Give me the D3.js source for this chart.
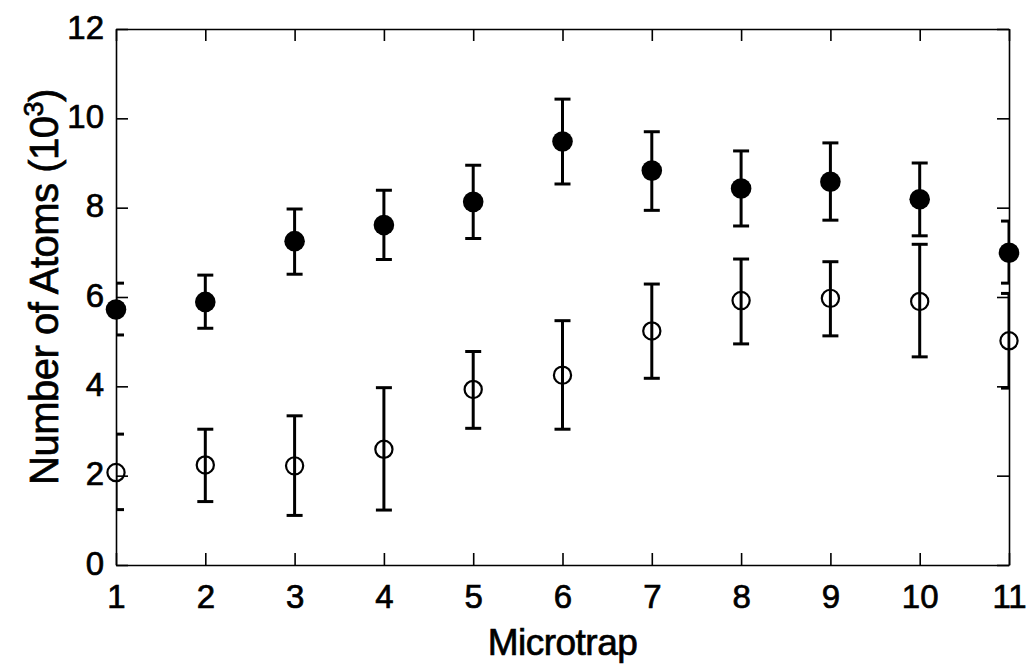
<!DOCTYPE html>
<html>
<head>
<meta charset="utf-8">
<script src="https://cdn.jsdelivr.net/npm/d3@7"></script>
<style>
  html, body { margin: 0; padding: 0; background: #fff; }
  svg { display: block; font-family: "Liberation Sans", Arial, sans-serif; }
  svg text { stroke: #000; stroke-width: 0.7px; }
</style>
</head>
<body>
<svg id="chart" width="1026" height="666"></svg>
<script>
// Microtrap index
const traps = [1, 2, 3, 4, 5, 6, 7, 8, 9, 10, 11];

// Filled markers: mean and error-bar limits (10^3 atoms)
const filledMean  = [5.72, 5.89, 7.25, 7.61, 8.13, 9.48, 8.83, 8.43, 8.58, 8.19, 6.99];
const filledUpper = [6.31, 6.49, 7.97, 8.39, 8.95, 10.43, 9.70, 9.27, 9.45, 9.00, 7.70];
const filledLower = [5.15, 5.30, 6.51, 6.84, 7.31, 8.53, 7.94, 7.59, 7.72, 7.37, 6.31];

// Open markers: mean and error-bar limits (10^3 atoms)
const openMean  = [2.07, 2.24, 2.22, 2.59, 3.93, 4.25, 5.24, 5.92, 5.97, 5.90, 5.02];
const openUpper = [2.93, 3.04, 3.34, 3.97, 4.78, 5.47, 6.29, 6.85, 6.79, 7.18, 6.08];
const openLower = [1.24, 1.42, 1.11, 1.23, 3.06, 3.04, 4.18, 4.95, 5.13, 4.66, 3.96];

const xTicks = [1, 2, 3, 4, 5, 6, 7, 8, 9, 10, 11];
const yTicks = [0, 2, 4, 6, 8, 10, 12];

const svg = d3.select("#chart");
const plotL = 116, plotR = 1009, plotT = 29, plotB = 565;

const x = d3.scaleLinear().domain([1, 11]).range([plotL, plotR]);
const y = d3.scaleLinear().domain([0, 12]).range([plotB, plotT]);

const tickLen = 12;

// Clip region for error bars
svg.append("defs").append("clipPath").attr("id", "plotClip")
  .append("rect").attr("x", plotL).attr("y", plotT)
  .attr("width", plotR - plotL).attr("height", plotB - plotT);

// Axes with inward ticks on all four sides
const axisStyle = g => {
  g.select(".domain").attr("stroke", "#000").attr("stroke-width", 1.6);
  g.selectAll(".tick line").attr("stroke", "#000").attr("stroke-width", 1.6);
};

svg.append("g").attr("transform", `translate(0,${plotB})`)
  .call(d3.axisBottom(x).tickValues(xTicks).tickSizeInner(-tickLen).tickSizeOuter(0).tickPadding(20).tickFormat(d3.format("d")))
  .call(axisStyle)
  .call(g => g.selectAll("text").attr("font-size", 33).attr("fill", "#000").attr("font-family", "Liberation Sans, Arial, sans-serif"));

svg.append("g").attr("transform", `translate(0,${plotT})`)
  .call(d3.axisTop(x).tickValues(xTicks).tickSizeInner(-tickLen).tickSizeOuter(0).tickFormat(""))
  .call(axisStyle);

svg.append("g").attr("transform", `translate(${plotL},0)`)
  .call(d3.axisLeft(y).tickValues(yTicks).tickSizeInner(-tickLen).tickSizeOuter(0).tickPadding(12).tickFormat(d3.format("d")))
  .call(axisStyle)
  .call(g => g.selectAll("text").attr("font-size", 33).attr("fill", "#000").attr("font-family", "Liberation Sans, Arial, sans-serif").attr("dy", "0.28em"));

svg.append("g").attr("transform", `translate(${plotR},0)`)
  .call(d3.axisRight(y).tickValues(yTicks).tickSizeInner(-tickLen).tickSizeOuter(0).tickFormat(""))
  .call(axisStyle);

// Error bars
function errorBars(mean, upper, lower) {
  const data = traps.map((t, i) => ({ t, hi: upper[i], lo: lower[i] }));
  const g = svg.append("g").attr("clip-path", "url(#plotClip)")
    .attr("stroke", "#000").attr("stroke-width", 3).attr("fill", "none");
  g.selectAll("line.v").data(data).join("line").attr("class", "v")
    .attr("x1", d => x(d.t)).attr("x2", d => x(d.t))
    .attr("y1", d => y(d.hi)).attr("y2", d => y(d.lo));
  const capW = 8;
  g.selectAll("line.capHi").data(data).join("line").attr("class", "capHi")
    .attr("x1", d => x(d.t) - capW).attr("x2", d => x(d.t) + capW)
    .attr("y1", d => y(d.hi)).attr("y2", d => y(d.hi));
  g.selectAll("line.capLo").data(data).join("line").attr("class", "capLo")
    .attr("x1", d => x(d.t) - capW).attr("x2", d => x(d.t) + capW)
    .attr("y1", d => y(d.lo)).attr("y2", d => y(d.lo));
}
errorBars(filledMean, filledUpper, filledLower);
errorBars(openMean, openUpper, openLower);

// Markers
svg.append("g").selectAll("circle").data(traps.map((t, i) => ({ t, v: filledMean[i] }))).join("circle")
  .attr("cx", d => x(d.t)).attr("cy", d => y(d.v)).attr("r", 10.3)
  .attr("fill", "#000");

svg.append("g").selectAll("circle").data(traps.map((t, i) => ({ t, v: openMean[i] }))).join("circle")
  .attr("cx", d => x(d.t)).attr("cy", d => y(d.v)).attr("r", 8.6)
  .attr("fill", "none").attr("stroke", "#000").attr("stroke-width", 2.2);

// Axis titles
svg.append("text")
  .attr("x", (plotL + plotR) / 2).attr("y", 655)
  .attr("text-anchor", "middle").attr("font-size", 37).attr("fill", "#000")
  .attr("letter-spacing", "-0.5")
  .text("Microtrap");

const yt = svg.append("text")
  .attr("transform", `translate(58,287) rotate(-90)`)
  .attr("text-anchor", "middle").attr("font-size", 40).attr("fill", "#000")
  .attr("letter-spacing", "-0.5");
yt.append("tspan").text("Number of Atoms (10");
yt.append("tspan").attr("font-size", 27).attr("baseline-shift", "super").text("3");
yt.append("tspan").text(")");
</script>
</body>
</html>
